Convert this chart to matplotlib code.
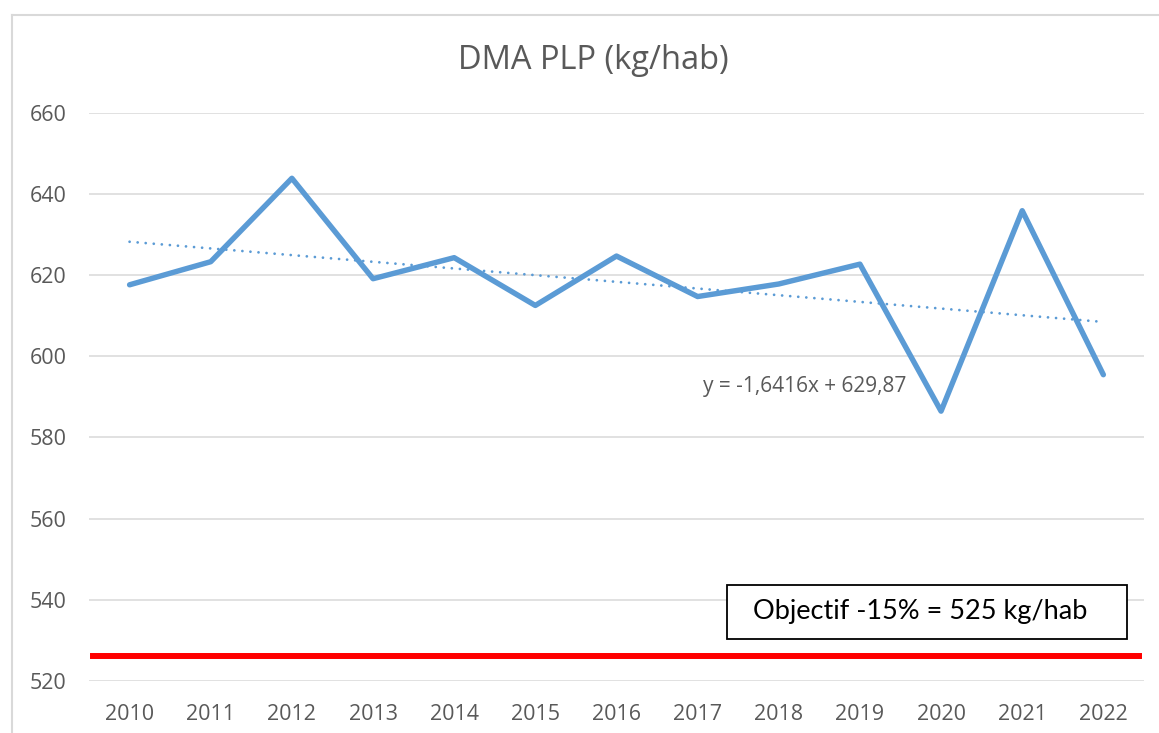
import numpy as np
import matplotlib
matplotlib.use("Agg")
import matplotlib.pyplot as plt
from matplotlib.patches import Rectangle
from matplotlib.lines import Line2D

# data
years = [2010, 2011, 2012, 2013, 2014, 2015, 2016, 2017, 2018, 2019, 2020, 2021, 2022]
dma = [617.7, 623.4, 644.0, 619.2, 624.4, 612.6, 624.8, 614.8, 617.9, 622.8, 586.5, 636.0, 595.5]
target = 526
title = "DMA PLP (kg/hab)"
eq_label = "y = -1,6416x + 629,87"
target_label = "Objectif -15% = 525 kg/hab"

grey = "#595959"
blue = "#5B9BD5"

plt.rcParams["font.family"] = ["Open Sans", "DejaVu Sans"]

fig = plt.figure(figsize=(11.59, 7.33), dpi=100)
ax = fig.add_axes([0.0768, 0.0716, 0.9102, 0.7736])

x = np.arange(len(years))
ax.plot(x, dma, color=blue, linewidth=3.9, solid_joinstyle="round",
        solid_capstyle="round", zorder=3)

# linear trend (Excel style, x = 1..n)
coef = np.polyfit(x + 1, dma, 1)
trend = np.polyval(coef, x + 1)
ax.plot(x, trend, color=blue, linewidth=2.0, linestyle=(0, (0.01, 2.9)),
        dash_capstyle="round", zorder=2)

ax.axhline(target, xmin=0.004, xmax=0.995, color="#FF0000", linewidth=4.3,
           zorder=2)

ax.set_xlim(-0.5, len(years) - 0.5)
ax.set_ylim(520, 660)
ax.set_yticks(np.arange(520, 661, 20))
ax.set_xticks(x)
ax.set_xticklabels([str(y) for y in years])
ax.grid(axis="y", color="#D9D9D9", linewidth=1.1)
ax.set_axisbelow(True)
for s in ax.spines.values():
    s.set_visible(False)
ax.tick_params(axis="both", length=0, colors=grey, labelsize=15.5)
ax.tick_params(axis="y", pad=16)
ax.tick_params(axis="x", pad=17)

ax.text(0.582, 0.519, eq_label, transform=ax.transAxes, color=grey,
        fontsize=15, va="center", ha="left")

ax.add_patch(Rectangle((0.605, 0.073), 0.379, 0.095, transform=ax.transAxes,
                       facecolor="white", edgecolor="black", linewidth=1.3,
                       zorder=4, clip_on=False))
ax.text(0.788, 0.121, target_label, transform=ax.transAxes, color="black",
        fontsize=19.5, va="center", ha="center", zorder=5,
        family=["Lato", "DejaVu Sans"])

fig.text(0.512, 0.918, title, color=grey, fontsize=23.5, ha="center",
         va="center")

# chart border (left and top edges visible)
fig.add_artist(Line2D([12 / 1159, 12 / 1159], [0, 1 - 15 / 733],
                      transform=fig.transFigure, color="#D9D9D9", linewidth=1.5))
fig.add_artist(Line2D([12 / 1159, 1], [1 - 15 / 733, 1 - 15 / 733],
                      transform=fig.transFigure, color="#D9D9D9", linewidth=1.5))

plt.savefig("out.png", dpi=100)
